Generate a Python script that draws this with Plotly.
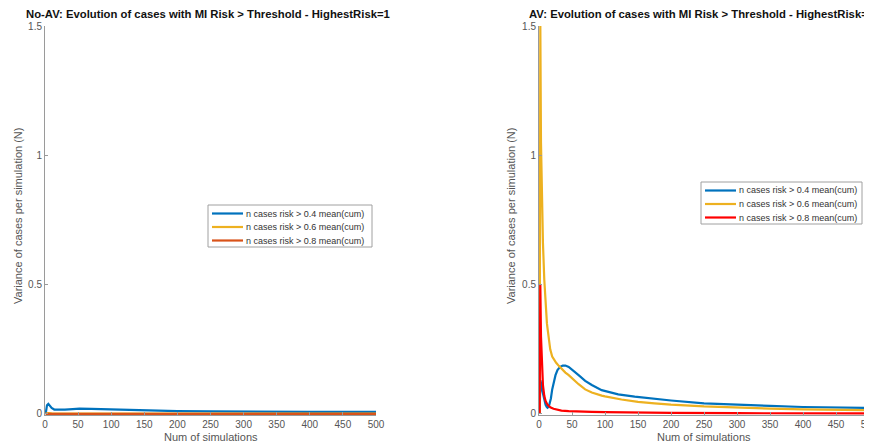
import plotly.graph_objects as go

# ---------------- data ----------------
legend_labels = ["n cases risk > 0.4 mean(cum)",
                 "n cases risk > 0.6 mean(cum)",
                 "n cases risk > 0.8 mean(cum)"]

# No-AV panel
noav_x04 = [1, 2, 3, 5, 7, 10, 14, 20, 30, 42, 52, 70, 93, 120, 143, 200, 250, 300, 400, 500]
noav_y04 = [0, 0.02, 0.034, 0.039, 0.033, 0.023, 0.017, 0.016, 0.017, 0.019, 0.021, 0.020,
            0.018, 0.016, 0.014, 0.011, 0.010, 0.009, 0.008, 0.008]
noav_x06 = [1, 2, 5, 10, 50, 500]
noav_y06 = [0, 0.002, 0.003, 0.002, 0.001, 0.001]
noav_x08 = [1, 500]
noav_y08 = [0, 0]

# AV panel
av_x04 = [1, 2, 3, 5, 8, 10, 12, 13, 15, 18, 20, 22, 25, 28, 32, 36, 40, 45, 50, 55, 60,
          70, 80, 95, 120, 145, 175, 200, 250, 300, 350, 400, 450, 500]
av_y04 = [0, 0.13, 0.12, 0.09, 0.05, 0.035, 0.026, 0.024, 0.03, 0.06, 0.095, 0.12, 0.15,
          0.17, 0.182, 0.187, 0.187, 0.182, 0.172, 0.162, 0.15, 0.128, 0.112, 0.092, 0.076,
          0.067, 0.058, 0.052, 0.041, 0.035, 0.031, 0.027, 0.025, 0.023]
av_x06 = [1, 2, 3, 4, 5, 6, 8, 10, 12, 14, 17, 20, 23, 26, 30, 35, 40, 45, 50, 55, 60, 70,
          80, 95, 100, 125, 150, 175, 200, 250, 300, 350, 400, 450, 500]
av_y06 = [0, 1.5, 1.05, 0.88, 0.75, 0.66, 0.52, 0.42, 0.35, 0.31, 0.25, 0.222, 0.207, 0.198,
          0.186, 0.172, 0.16, 0.15, 0.138, 0.125, 0.115, 0.095, 0.083, 0.071, 0.068, 0.056,
          0.047, 0.041, 0.036, 0.029, 0.024, 0.021, 0.018, 0.016, 0.015]
av_x08 = [1, 2, 3, 4, 5, 6, 8, 10, 13, 17, 22, 28, 34, 45, 60, 80, 100, 150, 200, 300, 400, 500]
av_y08 = [0, 0.5, 0.3, 0.2, 0.14, 0.11, 0.07, 0.05, 0.035, 0.026, 0.02, 0.016, 0.013, 0.011,
          0.009, 0.008, 0.007, 0.005, 0.004, 0.003, 0.003, 0.002]

x_ticks = [0, 50, 100, 150, 200, 250, 300, 350, 400, 450, 500]
y_ticks = [0, 0.5, 1, 1.5]
y_ticklabels = ["0", "0.5", "1", "1.5"]

titles = ["No-AV: Evolution of cases with MI Risk > Threshold - HighestRisk=1",
          "AV: Evolution of cases with MI Risk > Threshold - HighestRisk=1"]
x_title = "Num of simulations"
y_title = "Variance of cases per simulation (N)"

# ---------------- style ----------------
PAGE_W, PAGE_H = 872, 446
OFF = 8                      # default page body margin
W, H = PAGE_W - OFF, PAGE_H - OFF
FONT = "Liberation Sans, Arial, sans-serif"
AX = "#9a9a9a"
TXT = "#555555"
BLUE, YEL, ORA, RED = "#0072BD", "#EDB120", "#D95319", "#FF0000"
LW = 2.2

fig = go.Figure()

left_colors = [BLUE, YEL, ORA]
right_colors = [BLUE, YEL, RED]
left_series = [(noav_x04, noav_y04), (noav_x06, noav_y06), (noav_x08, noav_y08)]
right_series = [(av_x04, av_y04), (av_x06, av_y06), (av_x08, av_y08)]

for (xs, ys), c, name in zip(left_series, left_colors, legend_labels):
    fig.add_trace(go.Scatter(x=xs, y=ys, mode="lines", name=name, showlegend=False,
                             line=dict(color=c, width=LW), xaxis="x", yaxis="y"))
for (xs, ys), c, name in zip(right_series, right_colors, legend_labels):
    fig.add_trace(go.Scatter(x=xs, y=ys, mode="lines", name=name, showlegend=False,
                             line=dict(color=c, width=LW), xaxis="x2", yaxis="y2"))


def px_x(p):
    return (p - OFF) / W


def px_y(p):
    return (H - (p - OFF)) / H


xdom1 = [px_x(45), px_x(376)]
xdom2 = [px_x(539), px_x(869)]
ydom = [px_y(415), px_y(26)]

axis_common = dict(showline=True, linecolor=AX, linewidth=1, mirror=False, automargin=False,
                   showgrid=False, zeroline=False, ticks="inside", ticklen=3,
                   tickcolor=AX, tickfont=dict(family=FONT, size=10, color=TXT),
                   ticklabeloverflow="allow")

xa = dict(axis_common, range=[0, 500], tickvals=x_ticks)
ya = dict(axis_common, range=[-0.004, 1.5], tickvals=y_ticks, ticktext=y_ticklabels)

fig.update_layout(
    template="none",
    width=W, height=H,
    margin=dict(l=0, r=0, t=0, b=0, autoexpand=False),
    paper_bgcolor="white", plot_bgcolor="white",
    font=dict(family=FONT),
    showlegend=False,
    xaxis=dict(xa, domain=xdom1, anchor="y"),
    yaxis=dict(ya, domain=ydom, anchor="x"),
    xaxis2=dict(xa, domain=xdom2, anchor="y2"),
    yaxis2=dict(ya, domain=ydom, anchor="x2"),
)

annots = []
shapes = []
centers = [(45 + 376) / 2, (539 + 869) / 2]
ylab_x = [18, 511]
for i in range(2):
    annots.append(dict(text="<b>%s</b>" % titles[i], xref="paper", yref="paper",
                       x=px_x(centers[i] - 3), y=px_y(14), xanchor="center", yanchor="middle",
                       showarrow=False, font=dict(family=FONT, size=11.3, color="#111111")))
    annots.append(dict(text=x_title, xref="paper", yref="paper",
                       x=px_x(centers[i]), y=px_y(437), xanchor="center", yanchor="middle",
                       showarrow=False, font=dict(family=FONT, size=11, color=TXT)))
    annots.append(dict(text=y_title, xref="paper", yref="paper", textangle=-90,
                       x=px_x(ylab_x[i]), y=px_y(216), xanchor="center", yanchor="middle",
                       showarrow=False, font=dict(family=FONT, size=11, color=TXT)))

# legend boxes (drawn as paper shapes + text, matching the compact MATLAB legend)
legend_boxes = [dict(x0=208, x1=372, y0=205, y1=247, rows=[213.5, 227, 240.5], colors=left_colors),
                dict(x0=701, x1=862, y0=182, y1=224, rows=[190.5, 204, 217.5], colors=right_colors)]
for lb in legend_boxes:
    shapes.append(dict(type="rect", xref="paper", yref="paper",
                       x0=px_x(lb["x0"]), x1=px_x(lb["x1"]), y0=px_y(lb["y1"]), y1=px_y(lb["y0"]),
                       line=dict(color="#a0a0a0", width=1), fillcolor="white", layer="above"))
    for ry, c, lab in zip(lb["rows"], lb["colors"], legend_labels):
        shapes.append(dict(type="line", xref="paper", yref="paper",
                           x0=px_x(lb["x0"] + 4), x1=px_x(lb["x0"] + 35), y0=px_y(ry), y1=px_y(ry),
                           line=dict(color=c, width=LW), layer="above"))
        annots.append(dict(text=lab, xref="paper", yref="paper",
                           x=px_x(lb["x0"] + 36), y=px_y(ry), xanchor="left", yanchor="middle",
                           showarrow=False, font=dict(family=FONT, size=9, color="#333333")))

fig.update_layout(annotations=annots, shapes=shapes)

fig.write_html("out.html")
